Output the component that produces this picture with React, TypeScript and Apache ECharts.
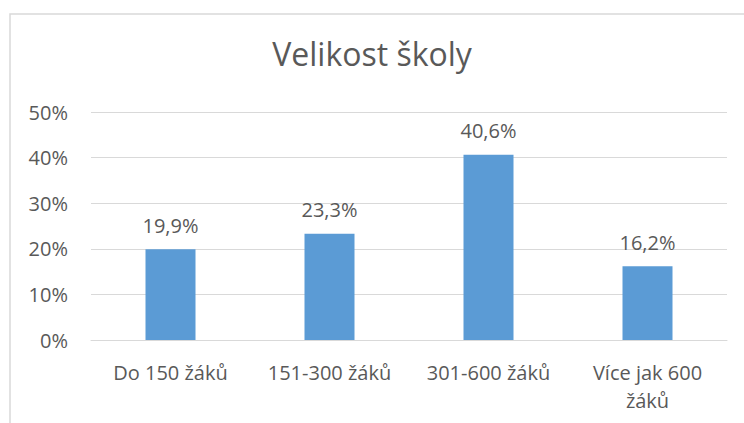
import React, { useEffect, useRef } from "react";
import * as echarts from "echarts";

const title = "Velikost školy";
const categories = ["Do 150 žáků", "151-300 žáků", "301-600 žáků", "Více jak 600 žáků"];
const values = [19.9, 23.3, 40.6, 16.2];
const yTicks = { min: 0, max: 50, interval: 10 };

const FONT = "'Open Sans', 'Noto Sans', sans-serif";
const TEXT = "#595959";

const wrapLabel = (s: string) => {
  if (s.length <= 13) return s;
  const i = s.lastIndexOf(" ");
  return i > 0 ? s.slice(0, i) + "\n" + s.slice(i + 1) : s;
};

export default function App() {
  const ref = useRef<HTMLDivElement>(null);
  useEffect(() => {
    document.body.style.margin = "0";
    const chart = echarts.init(ref.current!, null, { renderer: "svg" });
    chart.setOption({
      animation: false,
      backgroundColor: "#ffffff",
      title: {
        text: title,
        left: "center",
        top: 32,
        textStyle: { fontFamily: FONT, fontSize: 32, fontWeight: "normal", color: TEXT },
      },
      graphic: [
        {
          type: "rect",
          shape: { x: 10, y: 14, width: 760, height: 440 },
          style: { fill: "none", stroke: "#d9d9d9", lineWidth: 1.5 },
          silent: true,
        },
      ],
      grid: { left: 91, right: 17, top: 112, bottom: 83, containLabel: false },
      xAxis: {
        type: "category",
        data: categories,
        axisLine: { show: true, lineStyle: { color: "#d9d9d9", width: 1 } },
        axisTick: { show: false },
        axisLabel: {
          color: TEXT,
          fontFamily: FONT,
          fontSize: 20,
          margin: 18,
          lineHeight: 28,
          interval: 0,
          formatter: wrapLabel,
        },
      },
      yAxis: {
        type: "value",
        min: yTicks.min,
        max: yTicks.max,
        interval: yTicks.interval,
        axisLine: { show: false },
        axisTick: { show: false },
        splitLine: { lineStyle: { color: "#d9d9d9", width: 1 } },
        axisLabel: {
          color: TEXT,
          fontFamily: FONT,
          fontSize: 20,
          margin: 23,
          formatter: (v: number) => `${v}%`,
        },
      },
      series: [
        {
          type: "bar",
          data: values,
          barWidth: 50,
          itemStyle: { color: "#5b9bd5" },
          label: {
            show: true,
            position: "top",
            distance: 14,
            color: TEXT,
            fontFamily: FONT,
            fontSize: 20,
            formatter: (p: any) => `${p.value.toFixed(1).replace(".", ",")}%`,
          },
        },
      ],
    });
    return () => chart.dispose();
  }, []);
  return <div ref={ref} style={{ position: "fixed", left: 0, top: 0, width: 744, height: 423 }} />;
}
